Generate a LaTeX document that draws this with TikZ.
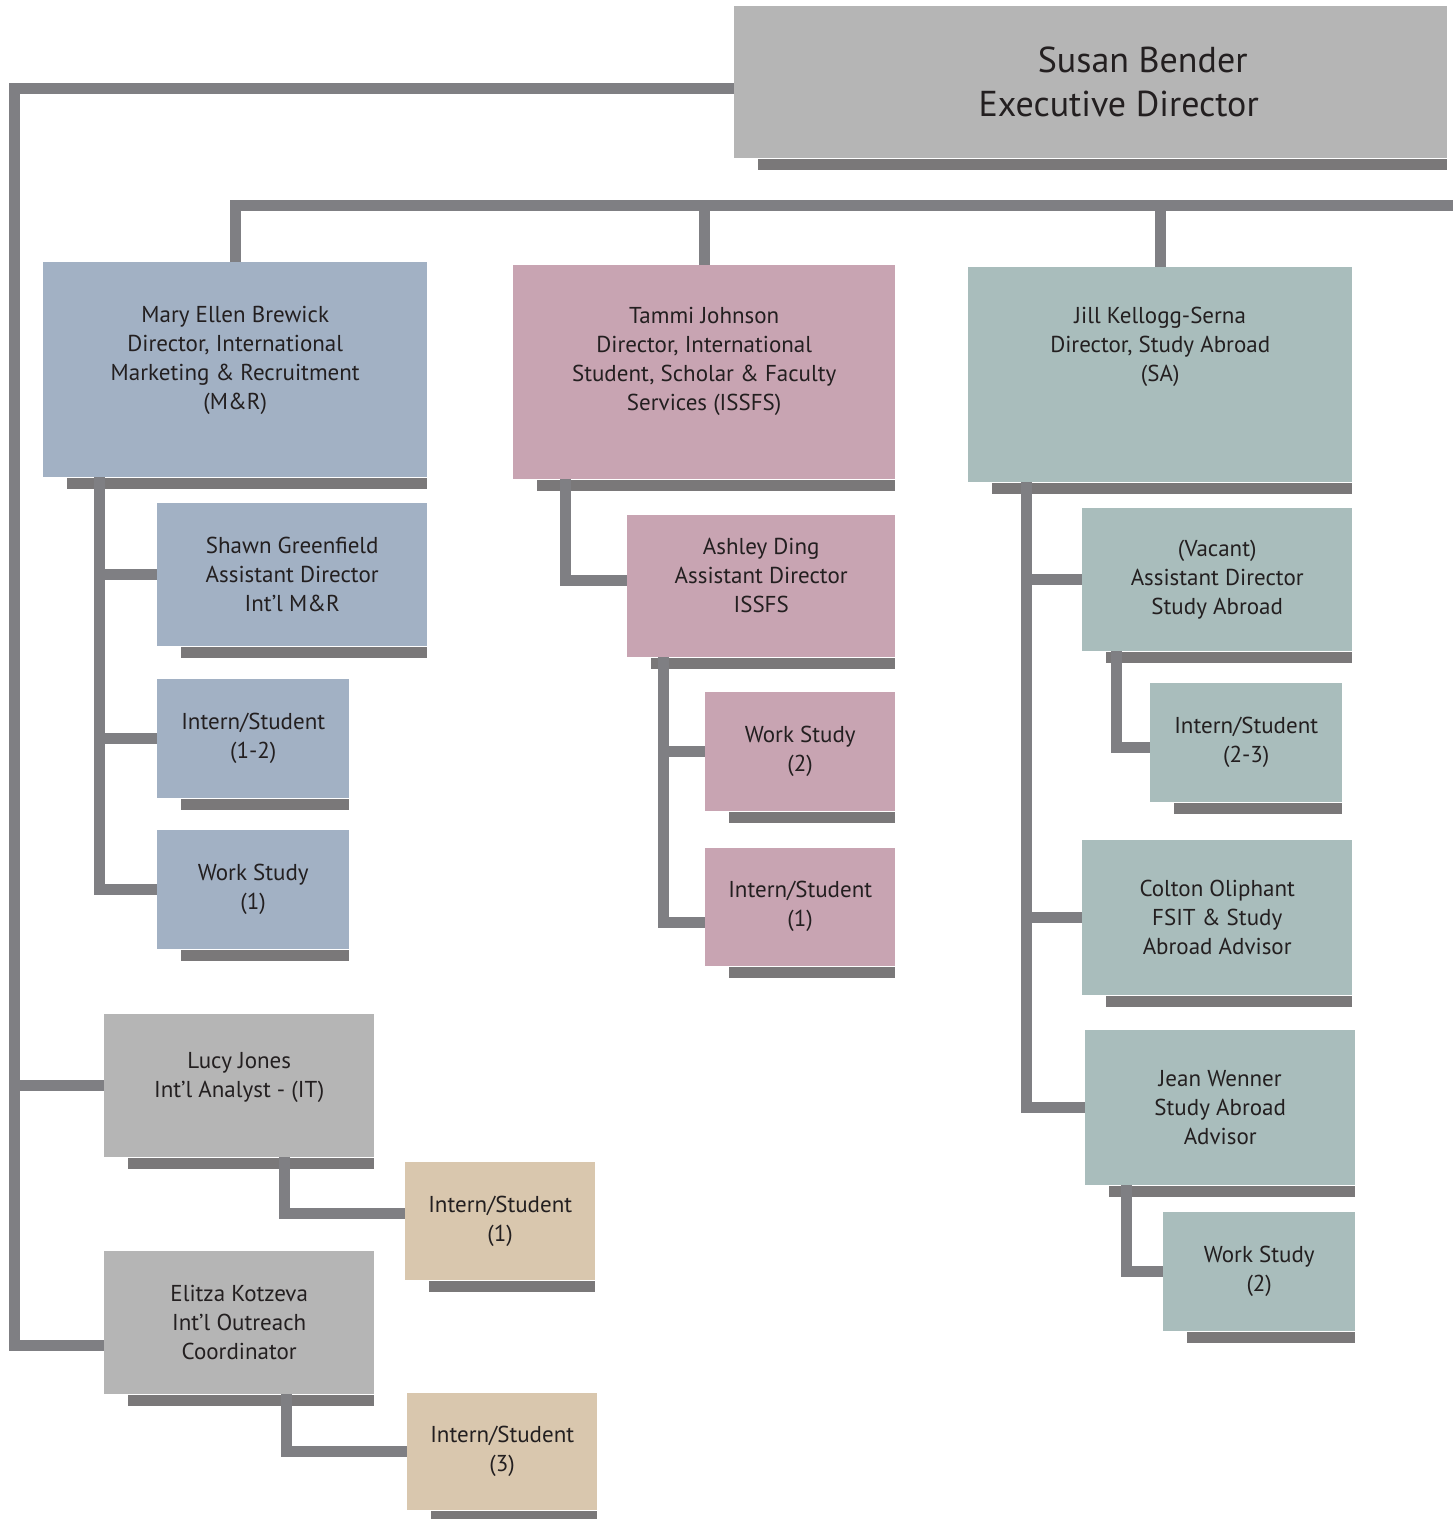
\documentclass[tikz,border=0pt]{standalone}
\usepackage{fontspec}
\setmainfont{PT Sans}
\usepackage{tikz}
\usetikzlibrary{positioning,calc}

\definecolor{mrblue}{HTML}{A2B1C4}
\definecolor{issfspink}{HTML}{C8A4B2}
\definecolor{sateal}{HTML}{A9BDBC}
\definecolor{itgray}{HTML}{B5B5B5}
\definecolor{interntan}{HTML}{D9C7AE}
\definecolor{linegray}{HTML}{7F7F83}
\definecolor{shadowgray}{HTML}{7A7879}
\definecolor{inkgray}{HTML}{231F20}

\begin{document}
\begin{tikzpicture}[x=1pt,y=-1pt,
	box/.style={rectangle,inner sep=0pt,anchor=north west,align=center,text=inkgray,font=\fontsize{23}{29}\selectfont},
	conn/.style={draw=linegray,line width=11pt,line join=miter}]
				\useasboundingbox (0,0) rectangle (1453,1519);
				
				\node[box,fill=itgray,minimum width=713pt,minimum height=152pt,font=\fontsize{36}{44}\selectfont] (exec) at (734,6) {\hspace*{104pt}Susan Bender\\\hspace*{56pt}Executive Director};
				
				\node[box,fill=mrblue,minimum width=384pt,minimum height=215pt,text depth=23pt] (mr) at (43,262) {Mary Ellen Brewick\\Director, International\\Marketing \& Recruitment\\(M\&R)};
				\node[box,fill=mrblue,minimum width=270pt,minimum height=143pt] (shawn) at (157,503) {Shawn Greenfield\\Assistant Director\\Int’l M\&R};
				\node[box,fill=mrblue,minimum width=192pt,minimum height=119pt] (int12) [below=32pt of shawn.south west,anchor=north west] {Intern/Student\\(1-2)};
				\node[box,fill=mrblue,minimum width=192pt,minimum height=119pt] (ws1) [below=32pt of int12.south west,anchor=north west] {Work Study\\(1)};
				
				\node[box,fill=issfspink,minimum width=382pt,minimum height=214pt,text depth=27pt] (issfs) at (513,265) {Tammi Johnson\\Director, International\\Student, Scholar \& Faculty\\Services (ISSFS)};
				\node[box,fill=issfspink,minimum width=268pt,minimum height=142pt,text depth=22pt] (ashley) at (627,515) {Ashley Ding\\Assistant Director\\ISSFS};
				\node[box,fill=issfspink,minimum width=190pt,minimum height=119pt] (ws2) at (705,692) {Work Study\\(2)};
				\node[box,fill=issfspink,minimum width=190pt,minimum height=118pt] (int1b) [below=36pt of ws2.south west,anchor=north west] {Intern/Student\\(1)};
				
				\node[box,fill=sateal,minimum width=384pt,minimum height=215pt,text depth=61pt] (sa) at (968,267) {Jill Kellogg-Serna\\Director, Study Abroad\\(SA)};
				\node[box,fill=sateal,minimum width=270pt,minimum height=143pt] (vacant) at (1082,508) {(Vacant)\\Assistant Director\\Study Abroad};
				\node[box,fill=sateal,minimum width=192pt,minimum height=119pt] (int23) at (1150,683) {Intern/Student\\(2-3)};
				\node[box,fill=sateal,minimum width=270pt,minimum height=155pt] (colton) at (1082,840) {Colton Oliphant\\FSIT \& Study\\Abroad Advisor};
				\node[box,fill=sateal,minimum width=270pt,minimum height=155pt] (jean) [below=34pt of colton.south west,anchor=north west,xshift=3pt] {Jean Wenner\\Study Abroad\\Advisor};
				\node[box,fill=sateal,minimum width=192pt,minimum height=119pt] (ws2b) at (1163,1212) {Work Study\\(2)};
				
				\node[box,fill=itgray,minimum width=270pt,minimum height=143pt,text depth=21pt] (lucy) at (104,1014) {Lucy Jones\\Int’l Analyst - (IT)};
				\node[box,fill=interntan,minimum width=190pt,minimum height=118pt] (int1c) at (405,1162) {Intern/Student\\(1)};
				\node[box,fill=itgray,minimum width=270pt,minimum height=143pt] (elitza) at (104,1251) {Elitza Kotzeva\\Int’l Outreach\\Coordinator};
				\node[box,fill=interntan,minimum width=190pt,minimum height=117pt] (int3) at (407,1393) {Intern/Student\\(3)};
				
				% shadow bars under the boxes
				\foreach \b in {exec,mr,shawn,int12,ws1,issfs,ashley,ws2,int1b,sa,vacant,int23,colton,jean,ws2b,lucy,int1c,elitza,int3}
					\fill[shadowgray] ($(\b.south west)+(24,1)$) rectangle ($(\b.south east)+(0,12)$);
				
				\coordinate (trunkend) at (14,1345);
				\coordinate (busend) at (1453,205);
				\draw[conn] ($(exec.west)+(0,6)$) -| (trunkend) -- (trunkend -| elitza.west);
				\draw[conn] (trunkend |- lucy.west) -- (lucy.west);
				
				\draw[conn] (mr.north) |- (busend);
				\draw[conn] (issfs.north) -- (issfs.north |- busend);
				\draw[conn] (sa.north) -- (sa.north |- busend);
				
				\coordinate (mrdrop) at ($(mr.south west)+(56,0)$);
				\draw[conn] (mrdrop) |- (ws1.west);
				\draw[conn] (mrdrop |- shawn.west) -- (shawn.west);
				\draw[conn] (mrdrop |- int12.west) -- (int12.west);
				
				\coordinate (issfsdrop) at ($(issfs.south west)+(52,0)$);
				\draw[conn] (issfsdrop) |- ($(ashley.west)+(0,-6)$);
				\coordinate (ashdrop) at ($(ashley.south west)+(36,0)$);
				\draw[conn] (ashdrop) |- ($(int1b.west)+(0,16)$);
				\draw[conn] (ashdrop |- ws2.west) -- (ws2.west);
				
				\coordinate (sadrop) at ($(sa.south west)+(58,0)$);
				\draw[conn] (sadrop) |- (jean.west);
				\draw[conn] (sadrop |- vacant.west) -- (vacant.west);
				\draw[conn] (sadrop |- colton.west) -- (colton.west);
				\coordinate (vacdrop) at ($(vacant.south west)+(34,0)$);
				\draw[conn] (vacdrop) |- ($(int23.west)+(0,5)$);
				\coordinate (jeandrop) at ($(jean.south west)+(41,0)$);
				\draw[conn] (jeandrop) |- (ws2b.west);
				
				\coordinate (lucydrop) at ($(lucy.south west)+(180,0)$);
				\draw[conn] (lucydrop) |- ($(int1c.west)+(0,-8)$);
				\coordinate (elitzadrop) at ($(elitza.south west)+(182,0)$);
				\draw[conn] (elitzadrop) |- (int3.west);
			\end{tikzpicture}
\end{document}
